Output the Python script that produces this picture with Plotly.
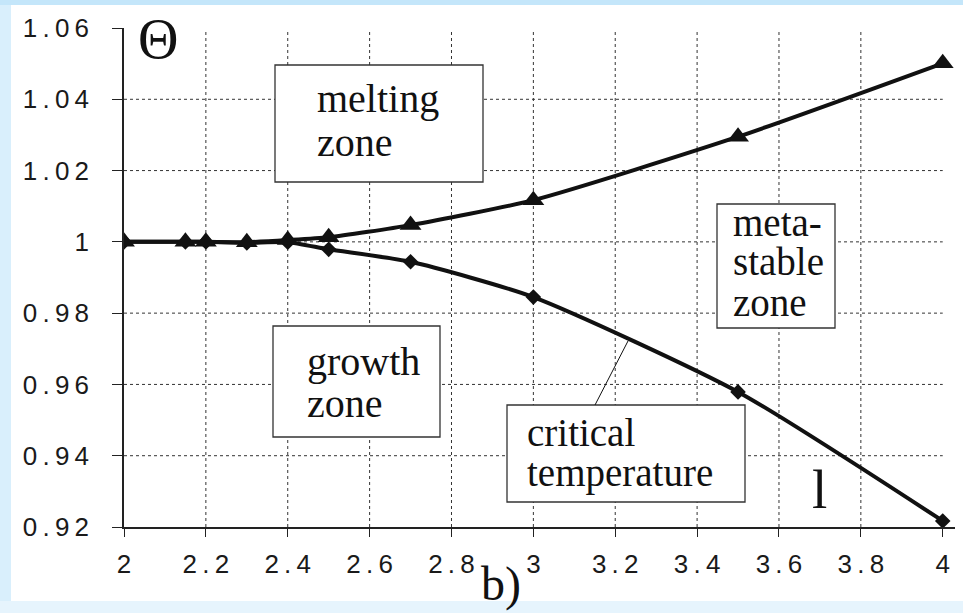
import plotly.graph_objects as go

# Reduced temperature Θ versus parameter, two branches of curve 1
x_vals = [2.0, 2.15, 2.2, 2.3, 2.4, 2.5, 2.7, 3.0, 3.5, 4.0]
theta_melting = [1.0000, 1.0000, 1.0000, 0.9999, 1.0005, 1.0013, 1.0047, 1.0117, 1.0295, 1.0501]
theta_growth = [1.0000, 1.0000, 1.0000, 0.9997, 0.9999, 0.9979, 0.9944, 0.9845, 0.9579, 0.9217]

x_ticks = [2, 2.2, 2.4, 2.6, 2.8, 3, 3.2, 3.4, 3.6, 3.8, 4]
x_tick_text = ["2", "2.2", "2.4", "2.6", "2.8", "3", "3.2", "3.4", "3.6", "3.8", "4"]
y_ticks = [0.92, 0.94, 0.96, 0.98, 1.00, 1.02, 1.04, 1.06]
y_tick_text = ["0.92", "0.94", "0.96", "0.98", "1", "1.02", "1.04", "1.06"]

W, H = 963, 613
ML, MR, MT, MB = 124, 8, 28, 86
PL, PR, PT, PB = ML, W - MR, MT, H - MB


def fx(px):
    """figure pixel x -> paper fraction"""
    return (px - PL) / (PR - PL)


def fy(py):
    """figure pixel y -> paper fraction"""
    return (PB - py) / (PB - PT)


def spaced(s):
    return "\u2009".join(s)


INK = "#111111"
SERIF = "Liberation Serif, Times New Roman, serif"
SANS = "Liberation Sans, Arial, sans-serif"

fig = go.Figure()

fig.add_trace(go.Scatter(
    x=x_vals, y=theta_growth, mode="lines+markers",
    line=dict(color=INK, width=4, shape="spline", smoothing=0.6),
    marker=dict(symbol="diamond", size=12, color=INK),
    showlegend=False, hoverinfo="skip",
))
fig.add_trace(go.Scatter(
    x=x_vals, y=theta_melting, mode="lines+markers",
    line=dict(color=INK, width=4, shape="spline", smoothing=0.6),
    marker=dict(symbol="triangle-up", size=19, color=INK),
    showlegend=False, hoverinfo="skip",
))

shapes = []
# page frame: light blue border with white sheet
shapes.append(dict(type="rect", xref="paper", yref="paper",
                   x0=fx(0), x1=fx(W), y0=fy(0), y1=fy(5),
                   fillcolor="#c4e6fa", line=dict(width=0), layer="below"))
shapes.append(dict(type="rect", xref="paper", yref="paper",
                   x0=fx(0), x1=fx(W), y0=fy(601), y1=fy(H),
                   fillcolor="#e6f4fd", line=dict(width=0), layer="below"))
shapes.append(dict(type="rect", xref="paper", yref="paper",
                   x0=fx(11), x1=fx(W + 5), y0=fy(601), y1=fy(5),
                   fillcolor="white", line=dict(width=0), layer="below"))

# dotted grid
for xv in x_ticks[1:-1]:
    shapes.append(dict(type="line", xref="x", yref="y",
                       x0=xv, x1=xv, y0=0.92, y1=1.0589,
                       line=dict(color="#333333", width=1, dash="dot"), layer="below"))
for yv in y_ticks[1:-1]:
    shapes.append(dict(type="line", xref="x", yref="y",
                       x0=2, x1=4, y0=yv, y1=yv,
                       line=dict(color="#333333", width=1, dash="dot"), layer="below"))

# label boxes
boxes = [(275, 65, 483, 182), (717, 204, 835, 328), (273, 326, 440, 437), (507, 405, 745, 502)]
for x0, y0, x1, y1 in boxes:
    shapes.append(dict(type="rect", xref="paper", yref="paper",
                       x0=fx(x0), x1=fx(x1), y0=fy(y1), y1=fy(y0),
                       fillcolor="white", line=dict(color="#333333", width=1.3), layer="above"))
# leader from the "critical temperature" box to the curve
shapes.append(dict(type="line", xref="paper", yref="paper",
                   x0=fx(595), y0=fy(405), x1=fx(628), y1=fy(341),
                   line=dict(color=INK, width=1), layer="above"))

annotations = []
text_lines = [
    ("melting", 315, 98, 40), ("zone", 315, 142, 40),
    ("meta-", 731, 222, 39), ("stable", 731, 261, 39), ("zone", 731, 302, 39),
    ("growth", 305, 361, 40), ("zone", 305, 403, 40),
    ("critical", 525, 432, 39), ("temperature", 525, 473, 39),
]
for txt, px, py, fs in text_lines:
    annotations.append(dict(text=txt, xref="paper", yref="paper", x=fx(px), y=fy(py),
                            xanchor="left", yanchor="middle", showarrow=False,
                            font=dict(family=SERIF, size=fs, color=INK)))
annotations.append(dict(text="Θ", xref="paper", yref="paper", x=fx(158), y=fy(39),
                        xanchor="center", yanchor="middle", showarrow=False,
                        font=dict(family=SERIF, size=56, color=INK)))
annotations.append(dict(text="l", xref="paper", yref="paper", x=fx(819), y=fy(489),
                        xanchor="center", yanchor="middle", showarrow=False,
                        font=dict(family=SERIF, size=55, color=INK)))
annotations.append(dict(text="b)", xref="paper", yref="paper", x=fx(501), y=fy(584),
                        xanchor="center", yanchor="middle", showarrow=False,
                        font=dict(family=SERIF, size=48, color=INK)))

fig.update_layout(
    width=W, height=H,
    margin=dict(l=ML, r=MR, t=MT, b=MB),
    paper_bgcolor="#d9effc",
    plot_bgcolor="rgba(0,0,0,0)",
    shapes=shapes,
    annotations=annotations,
    xaxis=dict(range=[2, 4.03], tickvals=x_ticks, ticktext=[spaced(t) for t in x_tick_text],
               showgrid=False, zeroline=False, showline=True, linecolor="#222222", linewidth=1.5,
               ticks="outside", ticklen=8, tickwidth=1.2, tickcolor="#222222",
               ticklabelstandoff=5,
               tickfont=dict(family=SANS, size=26, color="#1a1a1a")),
    yaxis=dict(range=[0.92, 1.06], tickvals=y_ticks, ticktext=[spaced(t) for t in y_tick_text],
               showgrid=False, zeroline=False, showline=True, linecolor="#222222", linewidth=1.5,
               ticks="outside", ticklen=10, tickwidth=1.2, tickcolor="#222222",
               ticklabelstandoff=18,
               tickfont=dict(family=SANS, size=26, color="#1a1a1a")),
)

fig.write_html("out.html")
